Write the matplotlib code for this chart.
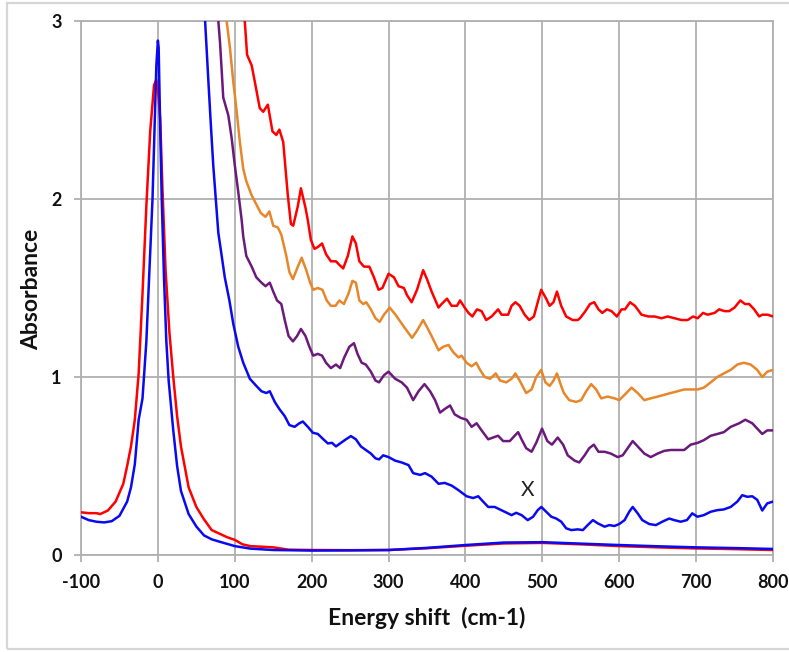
import matplotlib
matplotlib.use("Agg")
import matplotlib.pyplot as plt
from matplotlib.patches import Rectangle

# ---- data: energy shift (cm-1) vs absorbance ----
red_peak_x = [-100, -90, -80, -75, -65, -55, -45, -40, -35, -30, -25, -20, -15, -10, -5, -2,
              0, 3, 6, 10, 15, 20, 25, 30, 40, 50, 60, 70, 80, 90, 100, 110, 120, 150, 170,
              200, 250, 300, 350, 400, 450, 500, 550, 600, 650, 700, 750, 800]
red_peak_y = [0.24, 0.235, 0.235, 0.23, 0.25, 0.30, 0.40, 0.50, 0.61, 0.76, 1.02, 1.47, 1.96, 2.38, 2.64, 2.67,
              2.62, 2.45, 2.05, 1.60, 1.25, 1.00, 0.78, 0.61, 0.38, 0.27, 0.20, 0.14, 0.12, 0.10, 0.085, 0.06, 0.05, 0.043, 0.03,
              0.028, 0.027, 0.028, 0.038, 0.052, 0.065, 0.068, 0.060, 0.050, 0.043, 0.037, 0.033, 0.028]

blue_peak_x = [-100, -90, -80, -70, -60, -50, -40, -35, -30, -25, -20, -15, -10, -7, -4, -2,
               0, 1, 3, 5, 8, 11, 14, 20, 25, 30, 40, 50, 60, 70, 80, 100, 120, 150,
               200, 250, 300, 350, 400, 450, 500, 550, 600, 650, 700, 750, 800]
blue_peak_y = [0.215, 0.196, 0.187, 0.183, 0.19, 0.22, 0.30, 0.38, 0.51, 0.76, 0.88, 1.20, 1.70, 2.00, 2.45, 2.75,
               2.89, 2.85, 2.40, 2.00, 1.55, 1.20, 0.98, 0.70, 0.50, 0.36, 0.23, 0.16, 0.11, 0.088, 0.075, 0.05, 0.036, 0.028,
               0.025, 0.026, 0.028, 0.040, 0.056, 0.070, 0.072, 0.064, 0.056, 0.049, 0.043, 0.039, 0.034]

red_x = [110, 113, 116, 122, 126, 132.5, 137, 143, 149, 154, 158, 163, 169, 173, 176, 182, 186, 192, 195, 199,
         203.6, 208, 213.5, 218.7, 225, 231.6, 236, 241, 247, 253, 257.5, 262, 268, 275, 281, 287, 292, 300,
         307, 313, 320, 324, 330, 337, 345, 350, 356, 365, 369, 376, 382, 389, 393, 399, 404, 409, 415, 421,
         427, 434, 442.5, 447, 455.5, 460, 465, 470.5, 477, 483, 489, 494, 498.5, 505, 509.5, 514.5, 519,
         524.5, 531, 539.5, 546, 549, 556, 562, 567.5, 573, 578, 584, 590, 597, 603, 607.5, 614, 620.4, 629,
         638, 646, 655, 663, 672, 681, 689, 696, 702, 709, 715, 724, 730, 737, 743, 750, 757.5, 763.5, 769,
         775.5, 782, 786, 793, 800]
red_y = [3.08, 3.00, 2.81, 2.75, 2.66, 2.51, 2.49, 2.53, 2.38, 2.36, 2.39, 2.32, 2.02, 1.86, 1.85, 1.96, 2.06, 1.95, 1.88, 1.77,
         1.72, 1.73, 1.75, 1.69, 1.65, 1.65, 1.63, 1.61, 1.68, 1.79, 1.75, 1.65, 1.62, 1.62, 1.56, 1.49, 1.50, 1.58,
         1.56, 1.51, 1.50, 1.46, 1.42, 1.49, 1.60, 1.55, 1.48, 1.39, 1.41, 1.44, 1.40, 1.40, 1.43, 1.39, 1.36, 1.34, 1.38, 1.37,
         1.32, 1.34, 1.38, 1.35, 1.35, 1.40, 1.42, 1.40, 1.35, 1.32, 1.34, 1.42, 1.49, 1.44, 1.40, 1.42, 1.48,
         1.40, 1.34, 1.32, 1.32, 1.33, 1.37, 1.41, 1.42, 1.38, 1.36, 1.38, 1.37, 1.34, 1.38, 1.38, 1.42, 1.40, 1.35,
         1.34, 1.34, 1.33, 1.34, 1.33, 1.32, 1.32, 1.34, 1.33, 1.36, 1.35, 1.36, 1.38, 1.37, 1.37, 1.39, 1.43, 1.41, 1.41,
         1.38, 1.34, 1.35, 1.35, 1.34]

orange_x = [87, 89.4, 93.7, 98, 102, 106.6, 111, 115, 122, 128, 134, 140, 145, 150, 156, 160.5, 167, 171, 175.6,
            182, 187, 193, 198, 202, 208, 214, 219.6, 225, 231, 236, 242, 248, 253, 257.5, 262, 267, 271, 277,
            283, 288.5, 294, 301.5, 309, 315.5, 322, 330.5, 337, 345, 350, 356, 365, 371, 378, 384, 391, 395,
            401.5, 408, 414, 419, 425, 432, 439.5, 445, 453, 460, 465, 470.5, 479, 486, 492, 498.5, 504, 509.5,
            514.5, 519, 524.5, 528, 535, 544, 550.5, 557, 563.5, 570, 576.5, 585, 594, 600, 607, 616, 624, 632.6,
            641, 650, 658.5, 667, 676, 684.5, 693, 702, 710, 719, 727.6, 736, 745, 753.6, 762, 771, 779.5, 786,
            792.5, 800]
orange_y = [3.05, 3.00, 2.85, 2.66, 2.51, 2.32, 2.17, 2.10, 2.02, 1.97, 1.92, 1.90, 1.93, 1.85, 1.84, 1.80, 1.68, 1.59, 1.55,
            1.62, 1.67, 1.60, 1.53, 1.49, 1.50, 1.49, 1.43, 1.40, 1.40, 1.43, 1.41, 1.47, 1.54, 1.53, 1.43, 1.41, 1.42, 1.38,
            1.33, 1.31, 1.35, 1.39, 1.35, 1.31, 1.27, 1.22, 1.26, 1.32, 1.28, 1.23, 1.15, 1.17, 1.18, 1.14, 1.11, 1.12,
            1.08, 1.06, 1.08, 1.04, 1.00, 0.99, 1.02, 0.98, 0.97, 0.99, 1.02, 0.98, 0.91, 0.93, 1.00, 1.04, 0.97, 0.95,
            0.98, 1.02, 0.95, 0.91, 0.87, 0.86, 0.87, 0.92, 0.96, 0.93, 0.88, 0.89, 0.88, 0.87, 0.90, 0.94, 0.91, 0.87,
            0.88, 0.89, 0.90, 0.91, 0.92, 0.93, 0.93, 0.93, 0.94, 0.97, 1.00, 1.02, 1.04, 1.07, 1.08, 1.07, 1.04, 1.00,
            1.03, 1.04]

purple_x = [77, 78.6, 80.8, 83, 85, 91.6, 96, 100, 104.5, 109, 111, 115, 122, 128, 134.7, 140, 145.5, 150, 155,
            160.5, 165, 170, 175.6, 181, 186, 192, 197, 202, 208, 213.5, 218.7, 225, 231.6, 237, 242.4, 249, 255,
            259.6, 265, 270.4, 277, 283, 287.7, 294, 300, 308.6, 317, 324, 332, 339, 346.7, 354, 360.5, 367, 373,
            380, 386, 394, 401.5, 408, 414.5, 421, 429.6, 436, 442.5, 449, 457.7, 464, 468.5, 473, 479, 486, 492,
            499.6, 506.5, 512.5, 520, 527, 533, 542, 548, 555, 561, 567, 573, 581, 589, 598, 604.5, 611, 617.5,
            624, 632.6, 641, 650, 658.5, 667, 676, 684.5, 693, 702, 710, 719, 727.6, 736, 745, 756, 764, 773,
            779.5, 786, 792.5, 800]
purple_y = [3.05, 3.00, 2.88, 2.72, 2.57, 2.47, 2.34, 2.19, 2.04, 1.88, 1.79, 1.68, 1.62, 1.56, 1.53, 1.51, 1.53, 1.48, 1.43,
            1.41, 1.32, 1.23, 1.20, 1.23, 1.27, 1.23, 1.17, 1.12, 1.13, 1.12, 1.08, 1.05, 1.07, 1.05, 1.11, 1.17, 1.19,
            1.13, 1.08, 1.07, 1.03, 0.98, 0.97, 1.01, 1.03, 0.99, 0.97, 0.94, 0.87, 0.92, 0.96, 0.92, 0.87, 0.80, 0.82,
            0.84, 0.79, 0.77, 0.76, 0.72, 0.74, 0.70, 0.65, 0.66, 0.67, 0.64, 0.64, 0.67, 0.69, 0.65, 0.60, 0.58, 0.63,
            0.71, 0.64, 0.62, 0.66, 0.62, 0.56, 0.53, 0.52, 0.56, 0.60, 0.62, 0.58, 0.58, 0.57, 0.55, 0.56, 0.60, 0.64,
            0.61, 0.57, 0.55, 0.57, 0.585, 0.59, 0.59, 0.59, 0.62, 0.63, 0.645, 0.67, 0.68, 0.69, 0.72, 0.74, 0.76, 0.74,
            0.71, 0.68, 0.70, 0.70]

blue_x = [59, 61.4, 65.7, 68.7, 72, 76.5, 78.6, 83, 87, 93, 98, 104.5, 111, 119.6, 128, 134.7, 141, 145.5, 152,
          158, 165, 171, 177.8, 184, 188.5, 195, 201.5, 208, 214, 221, 226.5, 231.6, 238, 244.6, 251, 257.5,
          264, 270.4, 277, 283, 287.7, 293, 300, 308.6, 317, 326, 332, 341, 347.5, 356, 365, 373, 382, 390.7,
          401.5, 410, 416.6, 423, 429.6, 438, 444.7, 451, 460, 466, 473, 481, 488, 494, 498.7, 505, 511.7, 518,
          524.6, 531, 537.6, 546, 552.7, 559, 565.7, 572, 581, 587, 593.7, 600, 607, 613, 617.5, 624, 630, 639,
          647.7, 656, 665, 671.5, 680, 688, 695, 701.7, 710, 719, 727.6, 736, 745, 753.6, 760, 766.5, 773,
          779.5, 786, 792.5, 800]
blue_y = [3.10, 3.00, 2.66, 2.43, 2.19, 1.93, 1.81, 1.68, 1.56, 1.43, 1.30, 1.17, 1.08, 0.99, 0.95, 0.92, 0.91, 0.92, 0.86,
          0.82, 0.78, 0.73, 0.72, 0.74, 0.75, 0.72, 0.687, 0.68, 0.655, 0.627, 0.63, 0.61, 0.63, 0.65, 0.668, 0.65,
          0.61, 0.59, 0.57, 0.543, 0.537, 0.56, 0.55, 0.53, 0.52, 0.505, 0.46, 0.45, 0.46, 0.44, 0.40, 0.405, 0.39, 0.365,
          0.33, 0.32, 0.33, 0.30, 0.27, 0.27, 0.256, 0.243, 0.224, 0.237, 0.224, 0.196, 0.215, 0.252, 0.27, 0.243, 0.215, 0.205,
          0.187, 0.15, 0.14, 0.144, 0.14, 0.168, 0.196, 0.178, 0.159, 0.168, 0.163, 0.174, 0.196, 0.243, 0.27, 0.234, 0.196, 0.174,
          0.168, 0.187, 0.205, 0.196, 0.187, 0.196, 0.234, 0.215, 0.224, 0.243, 0.252, 0.256, 0.27, 0.30, 0.336, 0.327, 0.33,
          0.31, 0.25, 0.29, 0.30]

x_ticks = [-100, 0, 100, 200, 300, 400, 500, 600, 700, 800]
y_ticks = [0, 1, 2, 3]
x_label = "Energy shift  (cm-1)"
y_label = "Absorbance"
marker_text = "X"
marker_pos = (481, 0.365)

RED = "#ff0000"
ORANGE = "#e8862a"
PURPLE = "#6b1a7b"
BLUE = "#0a0af0"
GRID = "#b0b0b0"

plt.rcParams["font.family"] = ["Lato", "DejaVu Sans"]

fig = plt.figure(figsize=(7.89, 6.52), dpi=100)
ax = fig.add_axes([81 / 789, 97 / 652, 692 / 789, 534 / 652])

# outer chart frame
fig.patches.append(Rectangle((7 / 789, 3 / 652), 800 / 789, 646 / 652, transform=fig.transFigure,
                             fill=False, edgecolor="#d6d6d6", linewidth=1.6, zorder=0))

lw = 1.8
ax.plot(red_x, red_y, color=RED, lw=lw, zorder=3)
ax.plot(orange_x, orange_y, color=ORANGE, lw=lw, zorder=3)
ax.plot(purple_x, purple_y, color=PURPLE, lw=lw, zorder=3)
ax.plot(blue_x, blue_y, color=BLUE, lw=lw, zorder=3)
ax.plot(red_peak_x, red_peak_y, color=RED, lw=lw, zorder=3)
ax.plot(blue_peak_x, blue_peak_y, color=BLUE, lw=lw, zorder=4)

ax.text(marker_pos[0], marker_pos[1], marker_text, fontsize=15, ha="center", va="center",
        color="#222222", zorder=5)

ax.set_xlim(-100, 800)
ax.set_ylim(0, 3)
ax.set_xticks(x_ticks)
ax.set_yticks(y_ticks)
ax.set_xticklabels([str(v) for v in x_ticks], fontweight="bold", fontsize=13)
ax.set_yticklabels([str(v) for v in y_ticks], fontweight="bold", fontsize=13)
ax.grid(True, color=GRID, lw=1.3, zorder=1)
ax.set_axisbelow(True)
for s in ax.spines.values():
    s.set_color(GRID)
    s.set_linewidth(1.3)
ax.tick_params(axis="both", colors=GRID, length=5, width=1.3, labelcolor="#111111")
ax.tick_params(axis="x", pad=9)
ax.tick_params(axis="y", pad=9)

fig.text(427 / 789, 1 - 618 / 652, x_label, ha="center", va="center", fontsize=16.5,
         fontweight="bold", color="#111111")
fig.text(32 / 789, 1 - 289 / 652, y_label, ha="center", va="center", rotation=90,
         fontsize=16.5, fontweight="bold", color="#111111")

fig.savefig("out.png", dpi=100)
